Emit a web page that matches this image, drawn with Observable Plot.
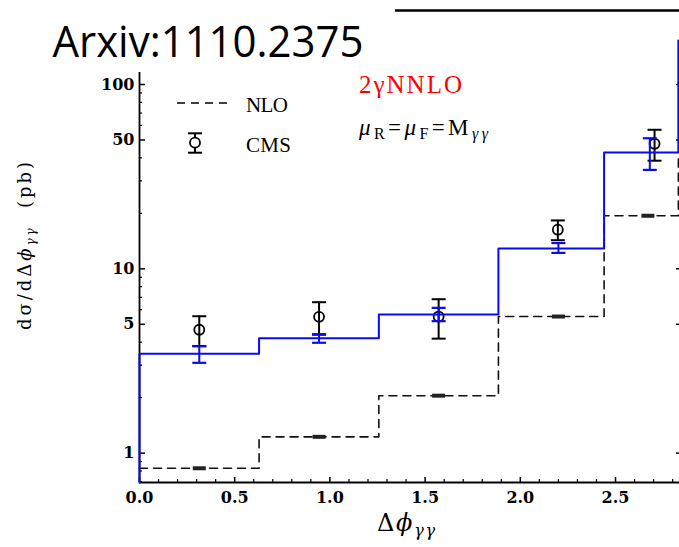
<!DOCTYPE html>
<html>
<head>
<meta charset="utf-8">
<script src="https://cdn.jsdelivr.net/npm/d3@7"></script>
<script src="https://cdn.jsdelivr.net/npm/@observablehq/plot@0.6"></script>
<style>
  html, body { margin: 0; padding: 0; background: white; }
  #wrap { position: relative; width: 679px; height: 547px; overflow: hidden; background: white; }
  #overlay { position: absolute; left: 0; top: 0; pointer-events: none; }
</style>
</head>
<body>
<div id="wrap">
  <div id="chart"></div>
  <svg id="overlay" width="679" height="547" xmlns="http://www.w3.org/2000/svg">
    <rect x="0" y="0" width="395" height="72" fill="white"/>
    <text x="52.5" y="56.5" font-family="Open Sans" font-size="44" textLength="311" lengthAdjust="spacingAndGlyphs" fill="#000">Arxiv:1110.2375</text>

    <line x1="177" y1="103" x2="231" y2="103" stroke="#000" stroke-width="1.6" stroke-dasharray="8,6"/>
    <text x="246" y="112" font-family="Liberation Serif" font-size="21" textLength="42" fill="#000">NLO</text>
    <line x1="195" y1="133.3" x2="195" y2="152.7" stroke="#000" stroke-width="2"/>
    <line x1="188" y1="133.3" x2="202" y2="133.3" stroke="#000" stroke-width="2"/>
    <line x1="188" y1="152.7" x2="202" y2="152.7" stroke="#000" stroke-width="2"/>
    <circle cx="195" cy="142.7" r="5" fill="white" stroke="#000" stroke-width="1.8"/>
    <text x="246" y="151.5" font-family="Liberation Serif" font-size="21" textLength="45" fill="#000">CMS</text>

    <text x="359" y="93" font-family="Liberation Serif" font-size="25" textLength="103" fill="#ff0000">2γNNLO</text>
    <text x="359" y="135" font-family="Liberation Serif" font-size="23" textLength="129" fill="#000"><tspan font-style="italic">μ</tspan><tspan dy="4" font-size="16">R</tspan><tspan dy="-4">=</tspan><tspan font-style="italic">μ</tspan><tspan dy="4" font-size="16">F</tspan><tspan dy="-4">=M</tspan><tspan dy="4" font-size="16" font-style="italic">γγ</tspan></text>

    <text transform="translate(31,246) rotate(-90)" text-anchor="middle" font-family="DejaVu Serif" font-size="18" textLength="168" fill="#000">dσ/dΔ<tspan font-style="italic">ϕ</tspan><tspan dy="4" font-size="12" font-style="italic">γγ</tspan><tspan dy="-4">&#160;&#160;(pb)</tspan></text>

    <text x="377" y="531" font-family="DejaVu Serif" font-size="24" textLength="58" fill="#000">Δ<tspan font-style="italic">ϕ</tspan><tspan dy="5" font-size="16" font-style="italic">γγ</tspan></text>
  </svg>
</div>
<script>
// ---- data ----
const binEdges   = [0, 0.628, 1.257, 1.885, 2.44, 2.83, 3.1416];
const nnloValues = [3.46, 4.20, 5.65, 12.9, 42.8, 173];
const nloValues  = [0.828, 1.226, 2.05, 5.51, 19.4, 40];

const theoryErrX   = [0.314, 0.943, 1.571, 2.20, 2.68];
const nnloErrLow   = [3.09, 3.97, 5.20, 12.2, 34.4];
const nnloErrHigh  = [3.80, 4.42, 6.14, 13.8, 51.1];
const nloErrX      = [0.314, 0.943, 1.571, 2.20, 2.67];
const nloAtCenters = [0.828, 1.226, 2.05, 5.51, 19.4];

const cmsX      = [0.314, 0.943, 1.571, 2.197, 2.705];
const cmsValues = [4.67, 5.49, 5.51, 16.3, 47.7];
const cmsErrors = [0.86, 1.1, 1.33, 2.0, 9.1];

const yMajor = [1, 5, 10, 50, 100];
const yMajorLabels = ["1", "5", "10", "50", "100"];
const yMinor = [0.7, 0.8, 0.9, 2, 3, 4, 6, 7, 8, 9, 20, 30, 40, 60, 70, 80, 90, 200];
const xMajor = [0, 0.5, 1.0, 1.5, 2.0, 2.5];
const xMajorLabels = ["0.0", "0.5", "1.0", "1.5", "2.0", "2.5"];
const xMinor = [0.1, 0.2, 0.3, 0.4, 0.6, 0.7, 0.8, 0.9, 1.1, 1.2, 1.3, 1.4, 1.6, 1.7, 1.8, 1.9, 2.1, 2.2, 2.3, 2.4, 2.6, 2.7, 2.8];

// ---- layout ----
const W = 679, H = 547;
const mL = 139, mR = 0, mT = 10, mB = 65;
const plotW = W - mL - mR, plotH = H - mT - mB;
const yMin = 0.693, yMax = 252;
const xMax = 2.836;
const blue = "#0a0aee";

// tables
const nnloStep = [{x: binEdges[0], y: yMin}].concat(
  binEdges.map((x, i) => ({x, y: nnloValues[Math.min(i, nnloValues.length - 1)]})));
const nloStep = binEdges.map((x, i) => ({x, y: nloValues[Math.min(i, nloValues.length - 1)]}));
const nnloErr = theoryErrX.map((x, i) => ({x, lo: nnloErrLow[i], hi: nnloErrHigh[i]}));
const nloErr = nloErrX.map((x, i) => ({x, y: nloAtCenters[i]}));
const cms = cmsX.map((x, i) => ({x, y: cmsValues[i], lo: cmsValues[i] - cmsErrors[i], hi: cmsValues[i] + cmsErrors[i]}));
const yLab = yMajor.map((v, i) => ({v, t: yMajorLabels[i]}));
const xLab = xMajor.map((v, i) => ({v, t: xMajorLabels[i]}));

// horizontal cap symbol (half-width = r)
const hbar = {draw(ctx, size) { const r = Math.sqrt(size / Math.PI); ctx.moveTo(-r, 0); ctx.lineTo(r, 0); }};

const labelStyle = {fontFamily: "DejaVu Serif", fontWeight: "bold", fontSize: 16, fill: "#000"};

const chart = Plot.plot({
  width: W, height: H,
  marginLeft: mL, marginRight: mR, marginTop: mT, marginBottom: mB,
  style: {fontFamily: "DejaVu Serif", fontWeight: "bold", fontSize: "16px", color: "#000", background: "white", overflow: "hidden"},
  x: {domain: [0, xMax], axis: null},
  y: {type: "log", domain: [yMin, yMax], axis: null},
  marks: [
    // axes frame
    Plot.ruleX([0], {strokeWidth: 1.8}),
    Plot.ruleY([yMin], {strokeWidth: 2}),
    Plot.ruleY([yMax], {strokeWidth: 2.6}),
    // inward ticks
    Plot.tickY(yMajor, {y: d => d, insetRight: plotW - 6, strokeWidth: 1.5}),
    Plot.tickY(yMinor, {y: d => d, insetRight: plotW - 3, strokeWidth: 1.2}),
    Plot.tickY(yMajor, {y: d => d, insetLeft: plotW - 3, strokeWidth: 1.5}),
    Plot.tickX(xMajor, {x: d => d, insetTop: plotH - 5, strokeWidth: 1.5}),
    Plot.tickX(xMinor, {x: d => d, insetTop: plotH - 3, strokeWidth: 1.2}),
    // tick labels
    Plot.text(yLab, {x: () => 0, y: "v", text: "t", textAnchor: "end", dx: -5, ...labelStyle}),
    Plot.text(xLab, {x: "v", y: () => yMin, text: "t", lineAnchor: "top", dy: 9, ...labelStyle}),
    // NLO
    Plot.line(nloStep, {x: "x", y: "y", curve: "step-after", stroke: "#111", strokeWidth: 1.6, strokeDasharray: "8,6"}),
    Plot.dot(nloErr, {x: "x", y: "y", symbol: hbar, r: 6.5, stroke: "#222", strokeWidth: 4, fill: "none"}),
    // CMS data
    Plot.ruleX(cms, {x: "x", y1: "lo", y2: "hi", stroke: "#000", strokeWidth: 2}),
    Plot.dot(cms, {x: "x", y: "lo", symbol: hbar, r: 7, stroke: "#000", strokeWidth: 2, fill: "none"}),
    Plot.dot(cms, {x: "x", y: "hi", symbol: hbar, r: 7, stroke: "#000", strokeWidth: 2, fill: "none"}),
    Plot.dot(cms, {x: "x", y: "y", r: 5, stroke: "#000", strokeWidth: 1.8, fill: "none"}),
    // NNLO
    Plot.line(nnloStep, {x: "x", y: "y", curve: "step-after", stroke: blue, strokeWidth: 2}),
    Plot.ruleX(nnloErr, {x: "x", y1: "lo", y2: "hi", stroke: blue, strokeWidth: 2}),
    Plot.dot(nnloErr, {x: "x", y: "lo", symbol: hbar, r: 7, stroke: blue, strokeWidth: 2.2, fill: "none"}),
    Plot.dot(nnloErr, {x: "x", y: "hi", symbol: hbar, r: 7, stroke: blue, strokeWidth: 2.2, fill: "none"})
  ]
});
document.getElementById("chart").appendChild(chart);
</script>
</body>
</html>
